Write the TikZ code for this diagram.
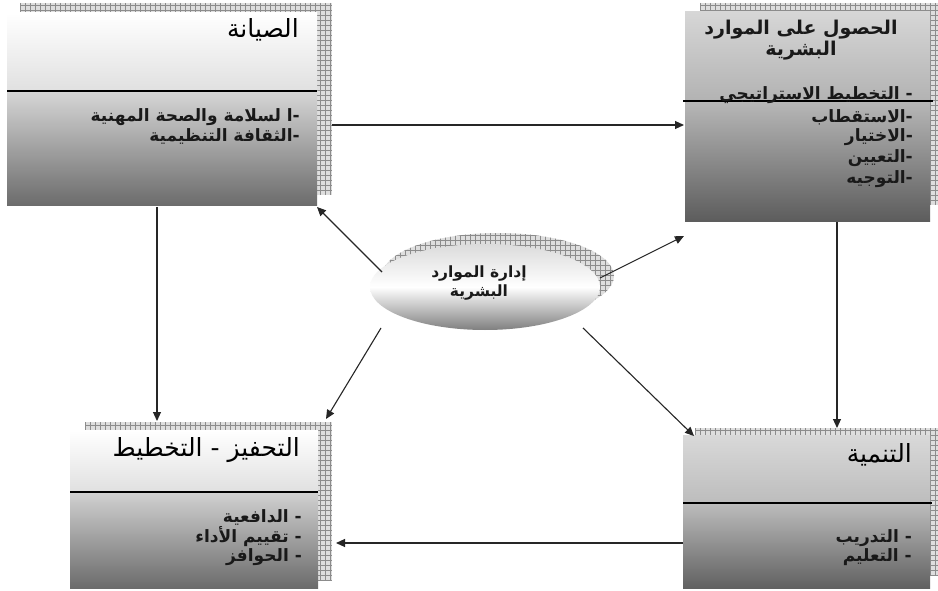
\documentclass[tikz,border=0pt]{standalone}
\usepackage{fontspec}
\TeXXeTstate=1
\newfontfamily\arabicfont[Script=Arabic]{DejaVu Sans}
\usetikzlibrary{arrows.meta}

% hatched drop-shadow rectangle (light fill with a fine grid)
\newcommand\hatchrect[4]{%
  \begin{scope}
    \clip (#1,#2) rectangle (#3,#4);
    \fill[black!13] (#1,#2) rectangle (#3,#4);
    \foreach \gx in {0,5,...,940} \draw[hatch] (\gx,#2) -- (\gx,#4);
    \foreach \gy in {0,5,...,595} \draw[hatch] (#1,\gy) -- (#3,\gy);
  \end{scope}}
\newcommand\rtl[1]{\beginR #1\endR}

\begin{document}
\begin{tikzpicture}[x=1pt,y=-1pt,
  hatch/.style={draw=black!45, line width=0.35pt},
  divider/.style={draw=black, line width=1.2pt},
  arr/.style={draw=black!85, line width=1.1pt, -{Triangle[length=9pt,width=8pt]}},
  title/.style={font=\arabicfont\fontsize{25}{28}\selectfont, anchor=east, inner sep=0pt, text=black},
  ctitle/.style={font=\arabicfont\bfseries\fontsize{19}{22}\selectfont, anchor=center, inner sep=0pt, text=black!90},
  etitle/.style={font=\arabicfont\bfseries\fontsize{15.5}{18}\selectfont, anchor=center, inner sep=0pt, text=black!90},
  item/.style={font=\arabicfont\bfseries\fontsize{17}{20}\selectfont, anchor=east, inner sep=0pt, text=black!90},
]
\useasboundingbox (0,0) rectangle (938,591);
\fill[white] (0,0) rectangle (938,591);

% ---- maintenance box (top left)
\hatchrect{20}{3}{332}{195}
\shade[top color=white, bottom color=black!12] (7,13) rectangle (317,91);
\shade[top color=black!16, bottom color=black!58] (7,91) rectangle (317,206);
\draw[divider] (7,91) -- (317,91);
\node[title] (tlT) at (299,30) {\rtl{الصيانة}};
\node[item] (tl1) at (300,117) {\rtl{-ا لسلامة والصحة المهنية}};
\node[item] (tl2) at (300,136) {\rtl{-الثقافة التنظيمية}};

% ---- acquisition box (top right)
\hatchrect{700}{3}{940}{205}
\shade[top color=black!16, bottom color=black!30] (685,12) rectangle (930,101);
\shade[top color=black!28, bottom color=black!64] (685,101) rectangle (930,222);
\draw[divider] (683,101) -- (933,101);
\node[ctitle] (trT1) at (801,30) {\rtl{الحصول على الموارد}};
\node[ctitle] (trT2) at (801,51) {\rtl{البشرية}};
\node[item] (tr1) at (913,95) {\rtl{- التخطيط الاستراتيجي}};
\node[item] (tr2) at (913,117) {\rtl{-الاستقطاب}};
\node[item] (tr3) at (913,137) {\rtl{-الاختيار}};
\node[item] (tr4) at (913,158) {\rtl{-التعيين}};
\node[item] (tr5) at (913,179) {\rtl{-التوجيه}};

% ---- motivation box (bottom left)
\hatchrect{85}{422}{332}{580}
\shade[top color=white, bottom color=black!12] (70,430) rectangle (318,492);
\shade[top color=black!18, bottom color=black!58] (70,492) rectangle (318,588);
\draw[divider] (70,492) -- (318,492);
\node[title] (blT) at (300,450) {\rtl{التحفيز - التخطيط}};
\node[item] (bl1) at (302,517) {\rtl{- الدافعية}};
\node[item] (bl2) at (302,537) {\rtl{- تقييم الأداء}};
\node[item] (bl3) at (302,557) {\rtl{- الحوافز}};

% ---- development box (bottom right)
\hatchrect{695}{428}{940}{575}
\shade[top color=black!15, bottom color=black!26] (683,435) rectangle (930,503);
\shade[top color=black!26, bottom color=black!62] (683,503) rectangle (930,588);
\draw[divider] (683,503) -- (932,503);
\node[title] (brT) at (912,455) {\rtl{التنمية}};
\node[item] (br1) at (912,538) {\rtl{- التدريب}};
\node[item] (br2) at (912,557) {\rtl{- التعليم}};

% ---- central ellipse with hatched shadow
\begin{scope}
  \clip (498,276) ellipse [x radius=116, y radius=43];
  \fill[black!13] (380,230) rectangle (616,322);
  \foreach \gx in {380,385,...,616} \draw[hatch] (\gx,230) -- (\gx,322);
  \foreach \gy in {230,235,...,322} \draw[hatch] (380,\gy) -- (616,\gy);
\end{scope}
\shade[top color=black!14, bottom color=black!50, middle color=white]
  (485,287) ellipse [x radius=115, y radius=43];
\node[etitle] (hr1) at (479,274) {\rtl{إدارة الموارد}};
\node[etitle] (hr2) at (479,293) {\rtl{البشرية}};

% ---- connector end points
\coordinate (tlR) at (332,125);
\coordinate (trL) at (684,125);
\coordinate (trB) at (837,222);
\coordinate (brTop) at (837,428);
\coordinate (brL) at (683,543);
\coordinate (blR) at (336,543);
\coordinate (tlB) at (157,207);
\coordinate (blTop) at (157,421);
\coordinate (eNW) at (382,272);
\coordinate (tlC) at (317,207);
\coordinate (eNE) at (600,278);
\coordinate (trC) at (684,236);
\coordinate (eSW) at (381,328);
\coordinate (blC) at (326,419);
\coordinate (eSE) at (583,328);
\coordinate (brC) at (694,436);

% ---- connectors
\draw[arr] (tlR) -- (trL);
\draw[arr] (trB) -- (brTop);
\draw[arr] (brL) -- (blR);
\draw[arr] (tlB) -- (blTop);
\draw[arr] (eNW) -- (tlC);
\draw[arr] (eNE) -- (trC);
\draw[arr] (eSW) -- (blC);
\draw[arr] (eSE) -- (brC);
\end{tikzpicture}
\end{document}
